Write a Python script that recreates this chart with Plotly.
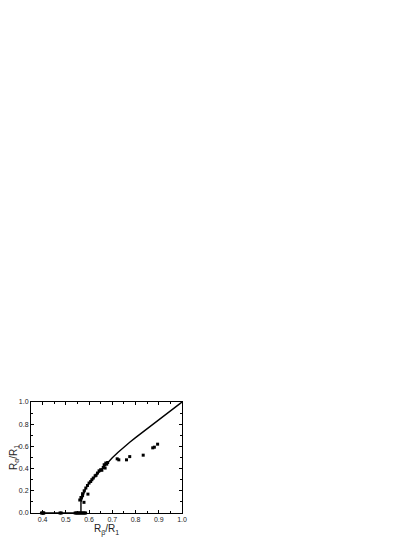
import plotly.graph_objects as go

# measured points (R_beta/R_1, R_alpha/R_1)
x_pts = [0.395, 0.400, 0.403, 0.405, 0.475, 0.480, 0.540, 0.545, 0.550, 0.555, 0.560,
         0.565, 0.570, 0.575, 0.580, 0.585,
         0.560, 0.565, 0.572, 0.578, 0.572, 0.595, 0.579, 0.586, 0.593, 0.600, 0.607,
         0.612, 0.618, 0.626, 0.630, 0.636, 0.643, 0.650, 0.655, 0.661, 0.665, 0.669,
         0.672, 0.676, 0.680,
         0.721, 0.728, 0.761, 0.775, 0.833, 0.874, 0.881, 0.895]
y_pts = [0.0, 0.0, 0.0, 0.0, 0.0, 0.0, 0.0, 0.0, 0.0, 0.0, 0.0,
         0.0, 0.0, 0.0, 0.0, 0.0,
         0.117, 0.14, 0.158, 0.096, 0.174, 0.17, 0.20, 0.225, 0.248, 0.27, 0.284,
         0.30, 0.315, 0.335, 0.34, 0.36, 0.38, 0.39, 0.385, 0.41, 0.435, 0.405,
         0.45, 0.44, 0.455,
         0.488, 0.479, 0.479, 0.508, 0.521, 0.587, 0.593, 0.62]

# model curve
x_line = [0.395, 0.565, 0.565, 0.575, 0.585, 0.600, 0.613, 0.630, 0.642, 0.660, 0.680,
          0.700, 0.725, 0.750, 0.775, 0.800, 0.850, 0.900, 0.950, 1.000]
y_line = [0.0, 0.0, 0.10, 0.17, 0.22, 0.27, 0.30, 0.34, 0.37, 0.41, 0.455,
          0.497, 0.548, 0.595, 0.638, 0.679, 0.759, 0.840, 0.920, 1.0]

fig = go.Figure()
fig.add_trace(go.Scatter(x=x_line, y=y_line, mode='lines',
                         line=dict(color='black', width=1.4), cliponaxis=False))
fig.add_trace(go.Scatter(x=x_pts, y=y_pts, mode='markers', cliponaxis=False,
                         marker=dict(symbol='square', size=3, color='black')))

ax = dict(showline=True, linecolor='black', linewidth=1, mirror='allticks',
          ticks='inside', ticklen=3, tickcolor='black', showgrid=False, zeroline=False,
          automargin=False,
          tickfont=dict(family='Liberation Sans, Arial', size=7, color='#222'))

# page body has an 8px margin, so margins are shifted to compensate
fig.update_layout(
    width=415, height=537, showlegend=False,
    plot_bgcolor='white', paper_bgcolor='white',
    margin=dict(l=23, r=241, t=394, b=32),
    xaxis=dict(ax, range=[0.35, 1.0], dtick=0.1, tick0=0.4, tickformat='.1f',
               minor=dict(ticks='inside', ticklen=2, dtick=0.05, tickcolor='black'),
               title=dict(text='R<sub>β</sub>/R<sub>1</sub>', standoff=2,
                          font=dict(family='Liberation Sans, Arial', size=10, color='#222'))),
    yaxis=dict(ax, range=[0, 1.0], dtick=0.2, tickformat='.1f',
               minor=dict(ticks='inside', ticklen=2, dtick=0.1, tickcolor='black'),
               title=dict(text='R<sub>α</sub>/R<sub>1</sub>', standoff=3,
                          font=dict(family='Liberation Sans, Arial', size=10, color='#222'))),
)

fig.write_html("out.html")
